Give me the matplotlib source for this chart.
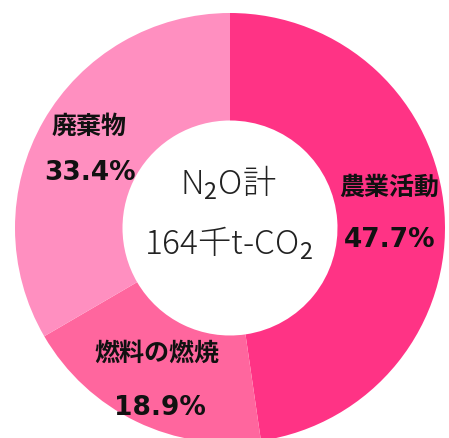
import matplotlib
matplotlib.use('Agg')
import matplotlib.pyplot as plt

plt.rcParams['font.family'] = ['Noto Sans CJK JP', 'DejaVu Sans']
plt.rcParams['mathtext.fontset'] = 'custom'
plt.rcParams['mathtext.rm'] = 'Noto Sans CJK JP'
plt.rcParams['mathtext.it'] = 'Noto Sans CJK JP'

# data (clockwise from 12 o'clock)
labels = ['農業活動', '燃料の燃焼', '廃棄物']
shares = [47.7, 18.9, 33.4]
colors = ['#FF3385', '#FF669E', '#FF8FC0']
center_lines = ['N$_2$O計', '164千t-CO$_2$']

fig = plt.figure(figsize=(4.49, 4.38), dpi=100)
ax = fig.add_axes([0, 0, 1, 1])

cx, cy, r = 230, 438 - 228, 215
ax.pie(shares, colors=colors, startangle=90, counterclock=False,
       center=(cx, cy), radius=r, frame=True,
       wedgeprops=dict(width=r * 0.5, linewidth=0))
ax.set_xlim(0, 449)
ax.set_ylim(0, 438)
ax.set_aspect('equal')
ax.axis('off')

# label spots (pixel coords from the top)
name_pos = [(389, 188), (157, 354), (89, 127)]
pct_pos = [(390, 240), (160, 408), (90, 173)]
for lab, val, (nx, ny), (px, py) in zip(labels, shares, name_pos, pct_pos):
    ax.text(nx, 438 - ny, lab, ha='center', va='center', fontsize=18,
            fontweight='bold', color='#111111')
    ax.text(px, 438 - py, f'{val}%', ha='center', va='center', fontsize=19,
            fontweight='bold', color='#111111', family='DejaVu Sans')

ax.text(228, 438 - 183, center_lines[0], ha='center', va='center', fontsize=24,
        color='#222222', fontweight='light')
ax.text(228, 438 - 243, center_lines[1], ha='center', va='center', fontsize=24,
        color='#222222', fontweight='light')

fig.savefig('out.png', dpi=100)
